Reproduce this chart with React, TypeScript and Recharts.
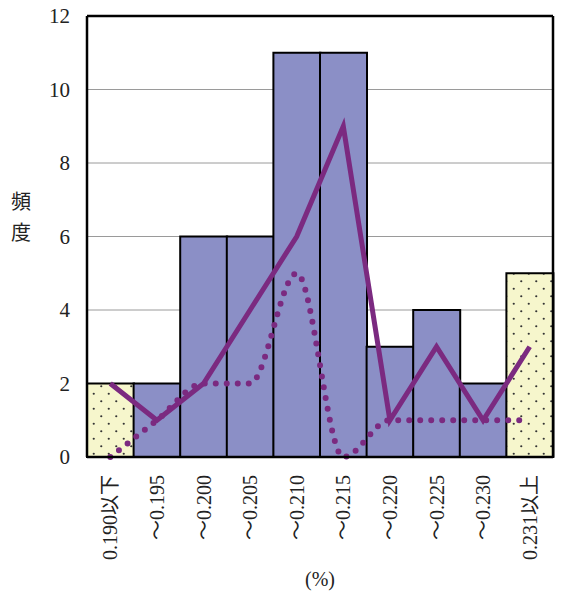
import { ComposedChart, Bar, Line, Cell, XAxis, YAxis, CartesianGrid } from 'recharts';

const categories = ['0.190以下', '〜0.195', '〜0.200', '〜0.205', '〜0.210', '〜0.215', '〜0.220', '〜0.225', '〜0.230', '0.231以上'];
const frequency = [2, 2, 6, 6, 11, 11, 3, 4, 2, 5];
const solidSeries = [2, 1, 2, 4, 6, 9, 1, 3, 1, 3];
const dottedSeries = [0, 1, 2, 2, 5, 0, 1, 1, 1, 1];
const yTicks = [0, 2, 4, 6, 8, 10, 12];

const data = categories.map((c, i) => ({
  name: c,
  freq: frequency[i],
  solid: solidSeries[i],
  dotted: dottedSeries[i]
}));

const FONT = '"Liberation Serif", "DejaVu Serif", "Noto Sans CJK JP", serif';
const BAR_FILL = '#8b8fc6';
const LINE_COLOR = '#7b2a80';

const XTick = (props: any) => {
  const { x, y, payload } = props;
  return (
    <text
      transform={`translate(${x},${y + 10}) rotate(-90)`}
      textAnchor="end"
      dominantBaseline="central"
      fontSize={20}
      fontFamily={FONT}
      fill="#222"
    >
      {payload.value}
    </text>
  );
};

const YLabel = (props: any) => {
  const { viewBox } = props;
  const cx = viewBox.x + 21;
  const cy = viewBox.y + viewBox.height / 2 - 28;
  return (
    <text x={cx} y={cy} textAnchor="middle" fontSize={20} fontFamily={FONT} fill="#222">
      <tspan x={cx} dy={0}>頻</tspan>
      <tspan x={cx} dy={31}>度</tspan>
    </text>
  );
};

export default function App() {
  return (
    <div style={{ position: 'absolute', left: 0, top: 0 }}>
      <ComposedChart
        width={563}
        height={592}
        data={data}
        margin={{ top: 15, right: 9, left: 0, bottom: 0 }}
        barCategoryGap={0}
        barGap={0}
      >
        <defs>
          <pattern id="dots" width="15" height="15" patternUnits="userSpaceOnUse">
            <rect width="15" height="15" fill="#f6f6cc" />
            <circle cx="3.75" cy="3.75" r="1.1" fill="#333" />
            <circle cx="11.25" cy="11.25" r="1.1" fill="#333" />
          </pattern>
        </defs>
        <CartesianGrid horizontal vertical={false} stroke="#9a9a9a" strokeWidth={1} />
        <XAxis
          dataKey="name"
          height={135}
          interval={0}
          tickLine={false}
          axisLine={{ stroke: '#000', strokeWidth: 2.5 }}
          tick={<XTick />}
          label={{ value: '(%)', position: 'insideBottom', offset: 6, fontSize: 20, fontFamily: FONT, fill: '#222' }}
        />
        <XAxis xAxisId="top" orientation="top" dataKey="name" height={1} tick={false} tickLine={false} axisLine={{ stroke: '#000', strokeWidth: 2.5 }} />
        <YAxis
          width={87}
          domain={[0, 12]}
          ticks={yTicks}
          interval={0}
          tickLine={false}
          tickMargin={11}
          axisLine={{ stroke: '#000', strokeWidth: 2.5 }}
          tick={{ fontSize: 21, fontFamily: FONT, fill: '#222' }}
          label={<YLabel />}
        />
        <YAxis yAxisId="right" orientation="right" width={1} domain={[0, 12]} tick={false} tickLine={false} axisLine={{ stroke: '#000', strokeWidth: 2.5 }} />
        <Bar dataKey="freq" stroke="#000" strokeWidth={2} isAnimationActive={false}>
          {data.map((_, i) => (
            <Cell key={`c-${i}`} fill={i === 0 || i === data.length - 1 ? 'url(#dots)' : BAR_FILL} />
          ))}
        </Bar>
        <Line
          type="linear"
          dataKey="solid"
          stroke={LINE_COLOR}
          strokeWidth={5}
          dot={false}
          isAnimationActive={false}
        />
        <Line
          type="monotone"
          dataKey="dotted"
          stroke={LINE_COLOR}
          strokeWidth={6}
          strokeDasharray="0 11"
          strokeLinecap="round"
          dot={false}
          isAnimationActive={false}
        />
      </ComposedChart>
    </div>
  );
}
